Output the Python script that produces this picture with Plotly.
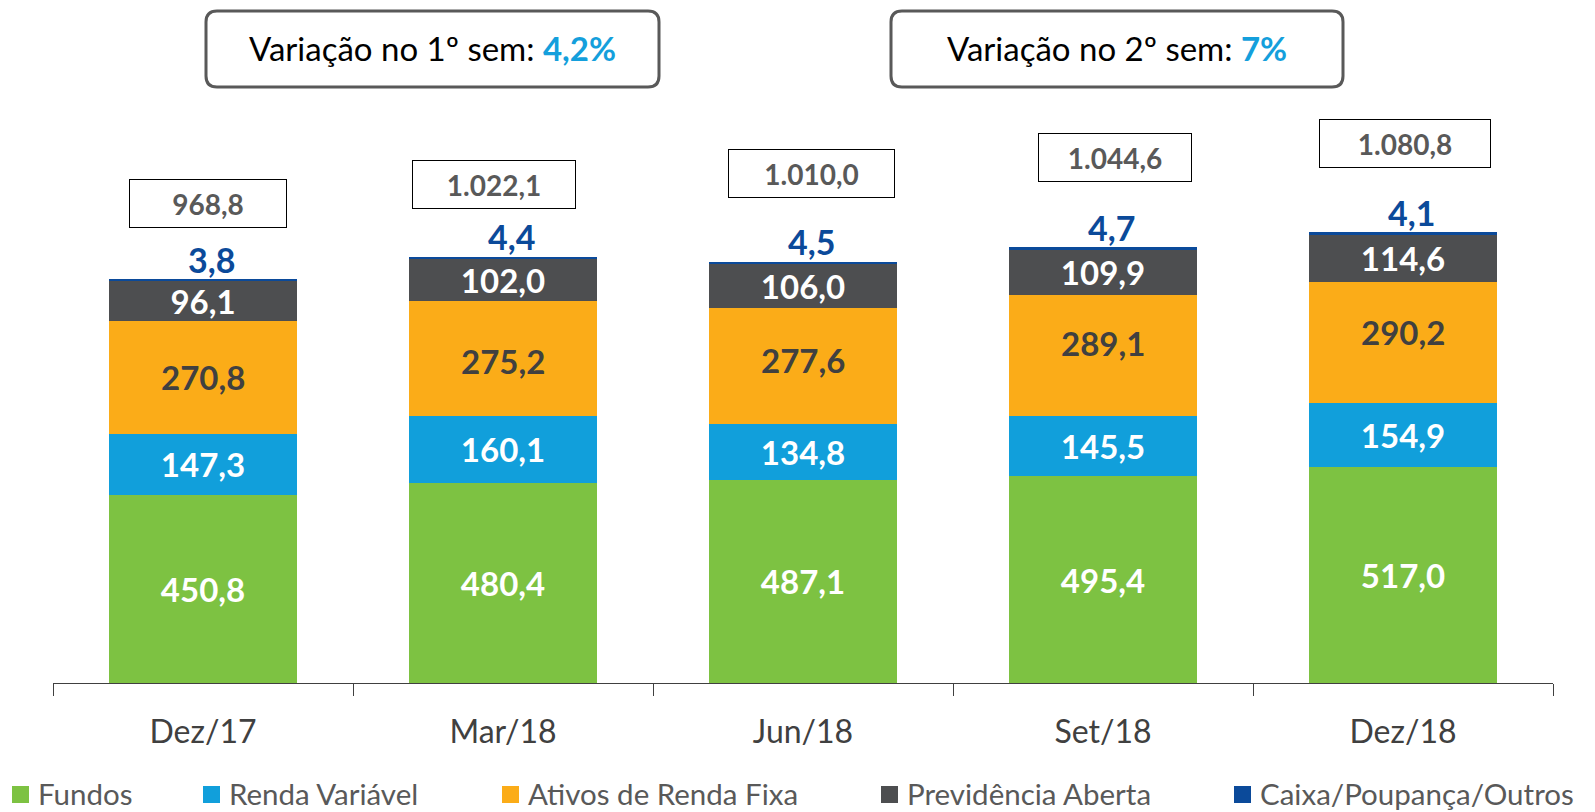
import plotly.graph_objects as go

categories = ["Dez/17", "Mar/18", "Jun/18", "Set/18", "Dez/18"]
fundos = [450.8, 480.4, 487.1, 495.4, 517.0]
renda_variavel = [147.3, 160.1, 134.8, 145.5, 154.9]
renda_fixa = [270.8, 275.2, 277.6, 289.1, 290.2]
previdencia = [96.1, 102.0, 106.0, 109.9, 114.6]
caixa = [3.8, 4.4, 4.5, 4.7, 4.1]
series_names = ["Fundos", "Renda Variável", "Ativos de Renda Fixa", "Previdência Aberta", "Caixa/Poupança/Outros"]
sem1_var = "4,2%"
sem2_var = "7%"

FONT = "Lato"
colors = ["#7DC242", "#119FDB", "#FBAC18", "#4D4E50", "#0B4A9A"]
label_colors = ["white", "white", "#404040", "white", None]

# plot area in pixels
W, H = 1595, 812
L, R, T, B = 53, 42, 5, 129
PW, PH = W - L - R, H - T - B
def px(x):
    return (x - L) / PW
def py(y):
    return (H - B - y) / PH

def fmt(v):
    s = f"{v:,.1f}"
    return s.replace(",", "X").replace(".", ",").replace("X", ".")

fig = go.Figure()
all_series = [fundos, renda_variavel, renda_fixa, previdencia, caixa]
annotations = []
base = [0.0] * len(categories)
# per-series label vertical nudges (px)
label_yshift = {2: [0, -2, 6, 12, 10]}
for i, (name, vals) in enumerate(zip(series_names, all_series)):
    if i == 2:
        fig.add_bar(x=categories, y=vals, name=name, marker_color=colors[i],
                    marker_line_width=0, textposition="none", hoverinfo="skip")
        for c, b0, v, sh in zip(categories, base, vals, label_yshift[2]):
            annotations.append(dict(x=c, y=b0 + v / 2, xref="x", yref="y",
                                    text=f"<b>{fmt(v)}</b>", showarrow=False,
                                    yanchor="middle", yshift=sh,
                                    font=dict(family=FONT, size=33, color=label_colors[i])))
    elif label_colors[i] is not None:
        fig.add_bar(x=categories, y=vals, name=name, marker_color=colors[i],
                    marker_line_width=0,
                    text=[fmt(v) for v in vals], textposition="inside",
                    insidetextanchor="middle", constraintext="none",
                    textfont=dict(family=FONT, size=33, color=label_colors[i], weight="bold"),
                    hoverinfo="skip")
    else:
        fig.add_bar(x=categories, y=vals, name=name, marker_color=colors[i],
                    marker_line_width=0, textposition="none", hoverinfo="skip")
    base = [b + v for b, v in zip(base, vals)]

totals = [round(sum(v), 1) for v in zip(*all_series)]

# caixa labels above bars
for c, t, v in zip(categories, totals, caixa):
    annotations.append(dict(x=c, y=t, xref="x", yref="y", text=f"<b>{fmt(v)}</b>",
                            showarrow=False, yanchor="middle", yshift=20, xshift=8,
                            font=dict(family=FONT, size=34, color="#0B4A9A")))
# total boxes
box_offsets = [(5, 76), (-9, 72), (8, 88), (12, 90), (2, 89)]
box_widths = [158, 164, 167, 154, 172]
for c, t, (dx, dy), bw in zip(categories, totals, box_offsets, box_widths):
    annotations.append(dict(x=c, y=t, xref="x", yref="y", text=f"<b>{fmt(t)}</b>",
                            showarrow=False, yanchor="middle", yshift=dy, xshift=dx,
                            width=bw - 2, height=47, borderpad=0,
                            bordercolor="#000000", borderwidth=1, bgcolor="white",
                            font=dict(family=FONT, size=28, color="#595959")))

# semester boxes
sem_boxes = [(206, 659, sem1_var, "1º"), (891, 1343, sem2_var, "2º")]
shapes = []
r = 11
for x0, x1, val, lab in sem_boxes:
    y0, y1 = 11, 87
    path = (f"M {px(x0 + r)} {py(y0)} L {px(x1 - r)} {py(y0)} "
            f"Q {px(x1)} {py(y0)} {px(x1)} {py(y0 + r)} L {px(x1)} {py(y1 - r)} "
            f"Q {px(x1)} {py(y1)} {px(x1 - r)} {py(y1)} L {px(x0 + r)} {py(y1)} "
            f"Q {px(x0)} {py(y1)} {px(x0)} {py(y1 - r)} L {px(x0)} {py(y0 + r)} "
            f"Q {px(x0)} {py(y0)} {px(x0 + r)} {py(y0)} Z")
    shapes.append(dict(type="path", path=path, xref="paper", yref="paper",
                       line=dict(color="#595959", width=3), fillcolor="white"))
    annotations.append(dict(x=px((x0 + x1) / 2), y=py(48), xref="paper", yref="paper",
                            text=f"Variação no {lab} sem: <b><span style='color:#149FDC'>{val}</span></b>",
                            showarrow=False, xanchor="center", yanchor="middle",
                            font=dict(family=FONT, size=33, color="#000000")))

# custom legend
leg_sq = [12, 203, 502, 881, 1234]
for i, (name, xs) in enumerate(zip(series_names, leg_sq)):
    shapes.append(dict(type="rect", xref="paper", yref="paper",
                       x0=px(xs), x1=px(xs + 17), y0=py(803), y1=py(786),
                       fillcolor=colors[i], line_width=0))
    annotations.append(dict(x=px(xs + 24), y=py(793), xref="paper", yref="paper",
                            text=name, showarrow=False, xanchor="left", yanchor="middle",
                            font=dict(family=FONT, size=29.5, color="#595959")))

fig.update_layout(
    barmode="stack", bargap=0.373,
    width=W, height=H, margin=dict(l=L, r=R, t=T, b=B),
    plot_bgcolor="white", paper_bgcolor="white",
    showlegend=False,
    annotations=annotations, shapes=shapes,
    xaxis=dict(type="category", tickson="boundaries", ticks="outside", ticklen=12,
               tickcolor="#404040", showline=True, linecolor="#404040", linewidth=1,
               showgrid=False, tickfont=dict(family=FONT, size=32, color="#404040"),
               ticklabelstandoff=21),
    yaxis=dict(range=[0, PH / 0.417], visible=False, showgrid=False),
)

fig.write_html("out.html", config={"displayModeBar": False},
               post_script="document.body.style.margin='0';document.body.style.overflow='hidden';")
